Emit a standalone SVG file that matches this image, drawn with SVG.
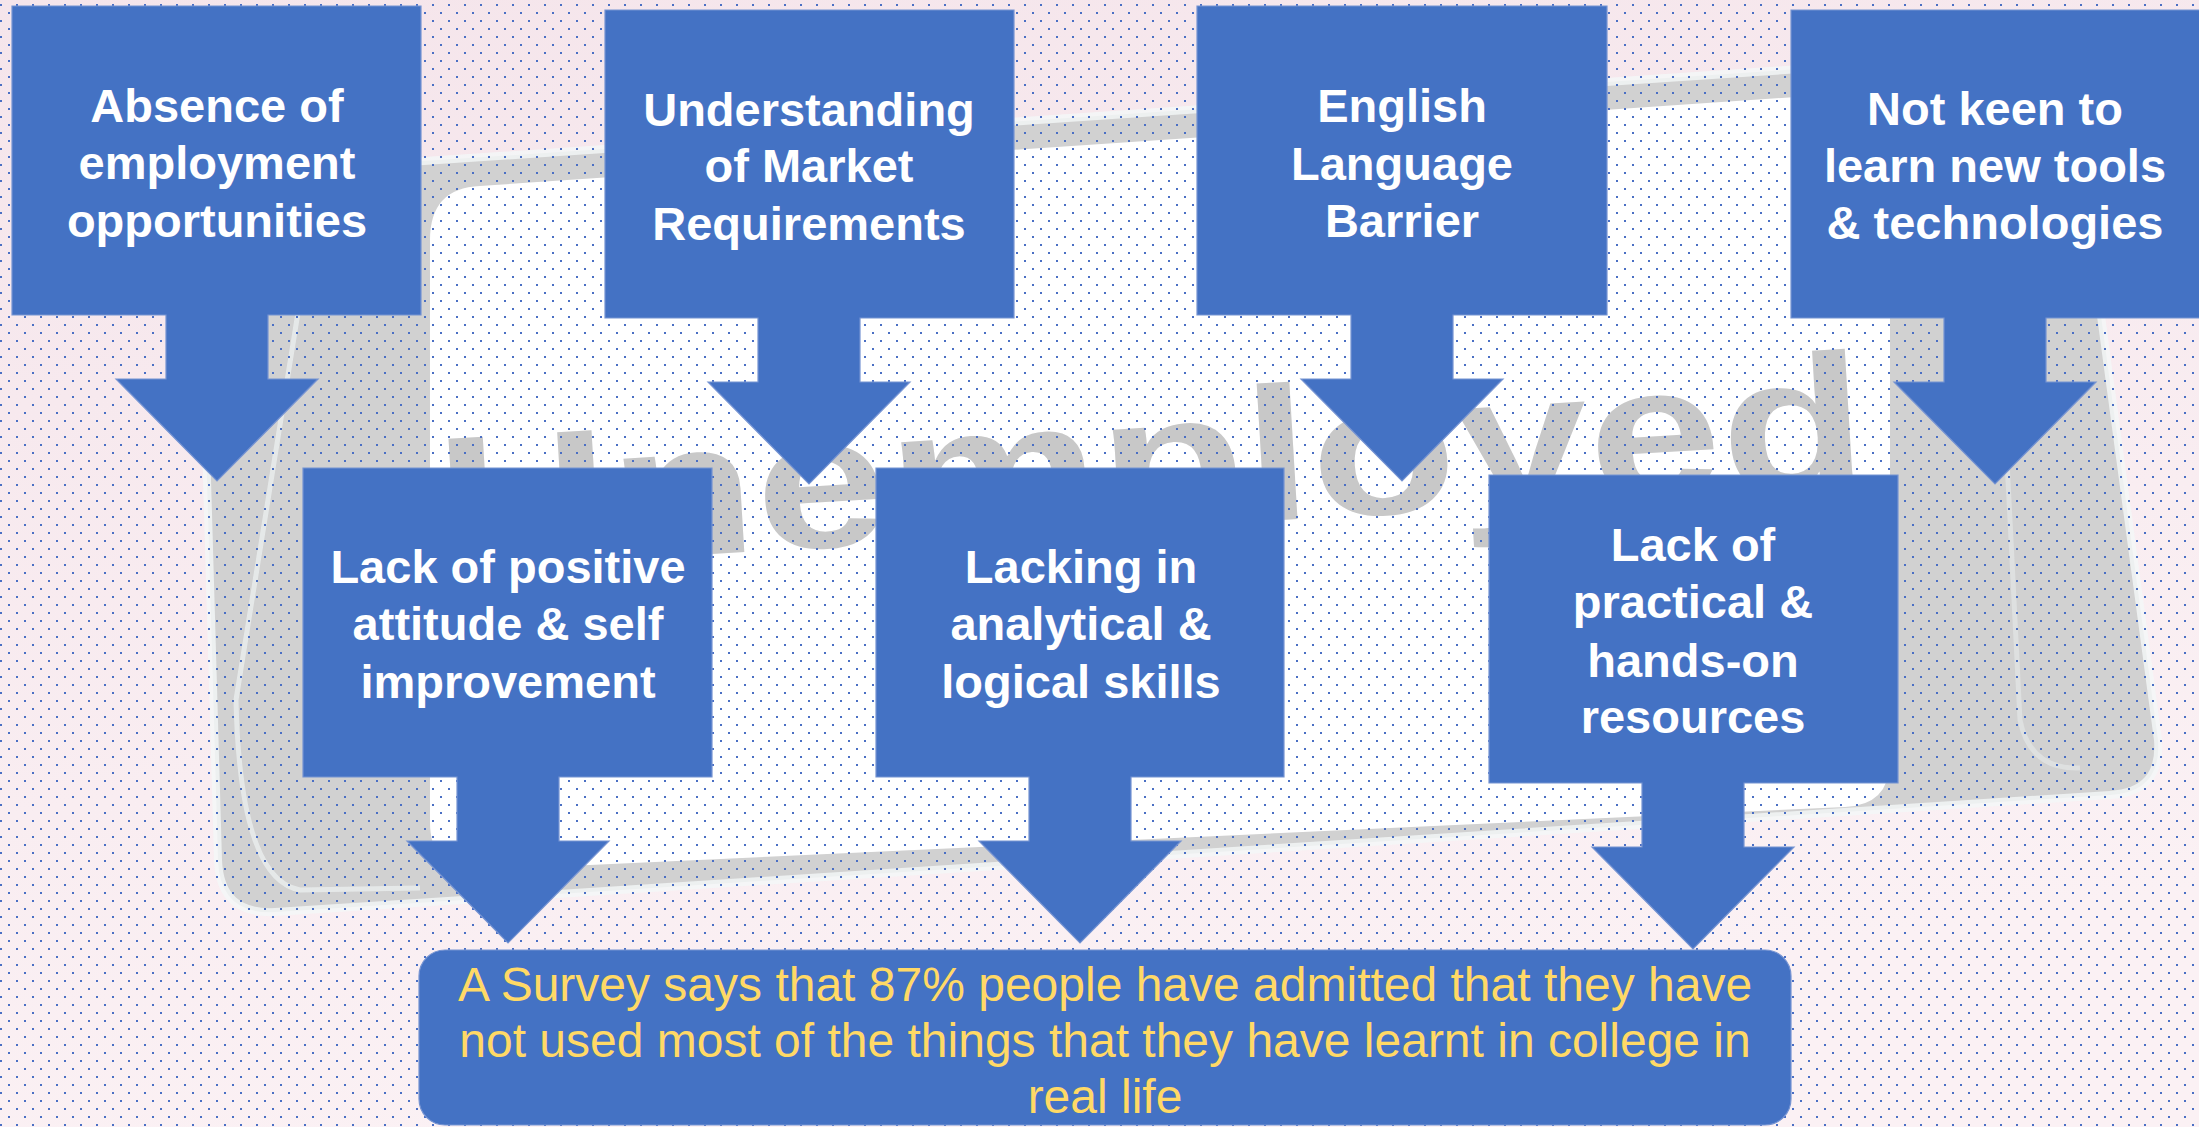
<svg xmlns="http://www.w3.org/2000/svg" width="2199" height="1127" viewBox="0 0 2199 1127">
  <style>
    .box { fill: #4472C4; stroke: #7593D2; stroke-width: 1.2; }
    .lbl { font-family: "Liberation Sans", Arial, sans-serif; font-weight: bold; font-size: 47px; fill: #FFFFFF; text-anchor: middle; }
    .note { font-family: "Liberation Sans", Arial, sans-serif; font-size: 48px; fill: #FFD966; text-anchor: middle; }
  </style>
  <defs>
    <linearGradient id="bg" x1="0" y1="0" x2="0.3" y2="1">
      <stop offset="0" stop-color="#F5E5EB"/>
      <stop offset="1" stop-color="#FBF1F4"/>
    </linearGradient>
    <pattern id="dots" width="16" height="16" patternUnits="userSpaceOnUse">
      <rect x="0" y="4" width="2" height="2" fill="#4A6FC4"/>
      <rect x="8" y="12" width="2" height="2" fill="#4A6FC4"/>
    </pattern>
  </defs>

  <!-- background photo approximation -->
  <g id="background">
    <rect width="2199" height="1127" fill="url(#bg)"/>
    <path d="M 200,236 Q 200,176 260,172 L 2010,55 Q 2066,52 2072,100 L 2158,740 Q 2162,792 2110,795 L 275,912 Q 220,915 218,860 Z" fill="#D1D1D1" stroke="#F4F7F7" stroke-width="8" stroke-opacity="0.8"/>
    <path d="M 300,300 L 236,700 Q 240,880 300,890 L 420,888" fill="none" stroke="#EEF2F2" stroke-width="5" stroke-opacity="0.7"/>
    <path d="M 2005,420 L 2020,720 Q 2030,770 2080,768" fill="none" stroke="#E6EAEA" stroke-width="5" stroke-opacity="0.6"/>
    <path d="M 430,240 Q 430,188 480,186 L 1840,94 Q 1890,91 1890,140 L 1890,760 Q 1890,805 1845,807 L 480,870 Q 430,872 430,822 Z" fill="#FFFFFF"/>
    <text x="442" y="570" transform="rotate(-3.4 442 570)" font-family="Liberation Sans, Arial, sans-serif" font-weight="bold" font-size="190" fill="#C8C8C8" textLength="1430" lengthAdjust="spacingAndGlyphs">Unemployed</text>
    <rect width="2199" height="1127" fill="url(#dots)"/>
  </g>

  <g id="connectors"></g>

  <g id="node-absence">
    <path class="box" d="M 12,6 H 421 V 315 H 268 V 379 H 318 L 217,481 L 116,379 H 166 V 315 H 12 Z"/>
    <text class="lbl" x="217" y="122">Absence of</text>
    <text class="lbl" x="217" y="179">employment</text>
    <text class="lbl" x="217" y="237">opportunities</text>
  </g>

  <g id="node-market">
    <path class="box" d="M 605,10 H 1014 V 318 H 860 V 382 H 910 L 809,484 L 708,382 H 758 V 318 H 605 Z"/>
    <text class="lbl" x="809" y="126">Understanding</text>
    <text class="lbl" x="809" y="182">of Market</text>
    <text class="lbl" x="809" y="240">Requirements</text>
  </g>

  <g id="node-english">
    <path class="box" d="M 1197,6 H 1607 V 315 H 1453 V 379 H 1503 L 1402,481 L 1301,379 H 1351 V 315 H 1197 Z"/>
    <text class="lbl" x="1402" y="122">English</text>
    <text class="lbl" x="1402" y="180">Language</text>
    <text class="lbl" x="1402" y="237">Barrier</text>
  </g>

  <g id="node-notkeen">
    <path class="box" d="M 1791,10 H 2200 V 318 H 2046 V 382 H 2096 L 1995,484 L 1894,382 H 1944 V 318 H 1791 Z"/>
    <text class="lbl" x="1995" y="125">Not keen to</text>
    <text class="lbl" x="1995" y="182">learn new tools</text>
    <text class="lbl" x="1995" y="239">&amp; technologies</text>
  </g>

  <g id="node-attitude">
    <path class="box" d="M 303,468 H 712 V 777 H 559 V 841 H 609 L 508,943 L 407,841 H 457 V 777 H 303 Z"/>
    <text class="lbl" x="508" y="583">Lack of positive</text>
    <text class="lbl" x="508" y="640">attitude &amp; self</text>
    <text class="lbl" x="508" y="698">improvement</text>
  </g>

  <g id="node-analytical">
    <path class="box" d="M 876,468 H 1284 V 777 H 1131 V 841 H 1181 L 1080,943 L 979,841 H 1029 V 777 H 876 Z"/>
    <text class="lbl" x="1081" y="583">Lacking in</text>
    <text class="lbl" x="1081" y="640">analytical &amp;</text>
    <text class="lbl" x="1081" y="698">logical skills</text>
  </g>

  <g id="node-practical">
    <path class="box" d="M 1489,475 H 1898 V 783 H 1744 V 847 H 1794 L 1693,949 L 1592,847 H 1642 V 783 H 1489 Z"/>
    <text class="lbl" x="1693" y="561">Lack of</text>
    <text class="lbl" x="1693" y="618">practical &amp;</text>
    <text class="lbl" x="1693" y="677">hands-on</text>
    <text class="lbl" x="1693" y="733">resources</text>
  </g>

  <g id="node-survey">
    <rect class="box" x="419" y="950" width="1372" height="175" rx="26" ry="26"/>
    <text class="note" x="1105" y="1001">A Survey says that 87% people have admitted that they have</text>
    <text class="note" x="1105" y="1057">not used most of the things that they have learnt in college in</text>
    <text class="note" x="1105" y="1113">real life</text>
  </g>
</svg>
